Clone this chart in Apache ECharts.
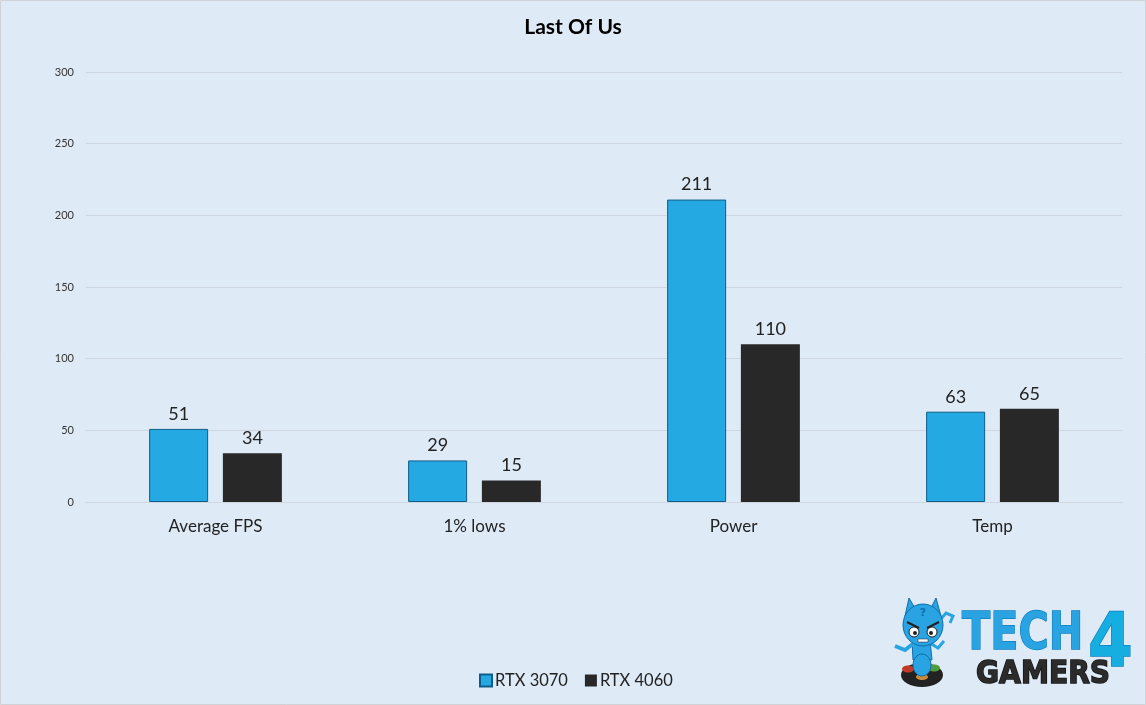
<!DOCTYPE html>
<html>
<head>
<meta charset="utf-8">
<script src="https://cdn.jsdelivr.net/npm/echarts@6/dist/echarts.min.js"></script>
<style>
html,body{margin:0;padding:0;background:#deebf7;}
#c{width:1146px;height:705px;}
</style>
</head>
<body>
<div id="c"></div>
<script>
const categories = ['Average FPS', '1% lows', 'Power', 'Temp'];
const rtx3070 = [51, 29, 211, 63];
const rtx4060 = [34, 15, 110, 65];
const titleText = 'Last Of Us';
const FONT = 'Lato, "Open Sans", sans-serif';
const chart = echarts.init(document.getElementById('c'), null, {renderer: 'canvas'});

function logoText(text, x, y, size, fill, stroke, sx) {
  return {type: 'text', x: x, y: y, scaleX: sx, silent: true,
    style: {text: text, fill: fill, stroke: stroke, lineWidth: 1.5,
      font: '900 ' + size + 'px "DejaVu Sans", sans-serif', textAlign: 'left', textVerticalAlign: 'middle'}};
}
const blue = '#2aa3e2', dark = '#0f6ea8';
const logo = [
  {type: 'ellipse', shape: {cx: 922, cy: 675, rx: 21, ry: 12}, style: {fill: '#222'}},
  {type: 'ellipse', shape: {cx: 908, cy: 669, rx: 6, ry: 3.5}, style: {fill: '#c0392b'}},
  {type: 'ellipse', shape: {cx: 934, cy: 668, rx: 6, ry: 3.5}, style: {fill: '#4f9d3a'}},
  {type: 'ellipse', shape: {cx: 922, cy: 677, rx: 6, ry: 3}, style: {fill: '#c98a3a'}},
  {type: 'polygon', shape: {points: [[909,598],[916,610],[905,616]]}, style: {fill: blue, stroke: dark}},
  {type: 'polygon', shape: {points: [[936,598],[930,610],[941,616]]}, style: {fill: blue, stroke: dark}},
  {type: 'polygon', shape: {points: [[912,640],[913,660],[932,660],[930,640]]}, style: {fill: blue, stroke: dark}},
  {type: 'ellipse', shape: {cx: 922, cy: 665, rx: 9, ry: 11}, style: {fill: blue, stroke: dark}},
  {type: 'polyline', shape: {points: [[914,643],[905,650],[895,646]]}, style: {fill: 'none', stroke: blue, lineWidth: 4}},
  {type: 'polyline', shape: {points: [[930,643],[938,648],[944,641]]}, style: {fill: 'none', stroke: blue, lineWidth: 3}},
  {type: 'polyline', shape: {points: [[940,620],[946,613],[953,616],[950,623]]}, style: {fill: 'none', stroke: blue, lineWidth: 3}},
  {type: 'ellipse', shape: {cx: 923, cy: 625, rx: 20, ry: 21}, style: {fill: blue, stroke: dark}},
  {type: 'text', x: 923, y: 613, silent: true, style: {text: '?', fill: '#0f6ea8', font: 'bold 11px "DejaVu Sans", sans-serif', textAlign: 'center', textVerticalAlign: 'middle'}},
  {type: 'circle', shape: {cx: 914, cy: 632, r: 5}, style: {fill: '#fff', stroke: '#222'}},
  {type: 'circle', shape: {cx: 932, cy: 632, r: 5}, style: {fill: '#fff', stroke: '#222'}},
  {type: 'circle', shape: {cx: 915, cy: 633, r: 2}, style: {fill: '#222'}},
  {type: 'circle', shape: {cx: 931, cy: 633, r: 2}, style: {fill: '#222'}},
  {type: 'line', shape: {x1: 907, y1: 622, x2: 919, y2: 628}, style: {stroke: '#222', lineWidth: 2}},
  {type: 'line', shape: {x1: 939, y1: 622, x2: 927, y2: 628}, style: {stroke: '#222', lineWidth: 2}},
  {type: 'rect', shape: {x: 918, y: 639, width: 10, height: 3}, style: {fill: '#fff', stroke: '#222', lineWidth: 0.5}},
  logoText('TECH', 962, 636, 51, '#2aa3e2', '#0f7fbf', 0.81),
  logoText('4', 1088, 647, 74, '#16aee0', '#0f7fbf', 0.87),
  logoText('GAMERS', 976, 675, 32, '#2b2b2b', '#111', 0.88)
];

chart.setOption({
  animation: false,
  backgroundColor: '#deebf7',
  title: {text: titleText, left: 'center', top: 12,
    textStyle: {fontFamily: FONT, fontSize: 21, fontWeight: 'bold', color: '#000'}},
  legend: {bottom: 11, left: 474, icon: 'rect', itemWidth: 12, itemHeight: 12, itemGap: 17,
    textStyle: {fontFamily: FONT, fontSize: 16.5, color: '#222', padding: [0, 0, 0, -2]},
    data: ['RTX 3070', 'RTX 4060']},
  grid: {left: 86, right: 24, top: 72, bottom: 203, containLabel: false},
  xAxis: {type: 'category', data: categories,
    axisLine: {lineStyle: {color: '#cfd6e0', width: 1}}, axisTick: {show: false},
    axisLabel: {fontFamily: FONT, fontSize: 17, color: '#222', margin: 16}},
  yAxis: {type: 'value', min: 0, max: 300, interval: 50,
    axisLine: {show: false}, axisTick: {show: false},
    splitLine: {lineStyle: {color: '#cfd6e0', width: 1}},
    axisLabel: {fontFamily: FONT, fontSize: 11, color: '#333', margin: 12}},
  series: [
    {name: 'RTX 3070', type: 'bar', data: rtx3070, barWidth: 59, barGap: '25%',
     itemStyle: {color: '#25a9e3', borderColor: '#0f5c8a', borderWidth: 1},
     label: {show: true, position: 'top', distance: 6, fontFamily: FONT, fontSize: 18, color: '#222'}},
    {name: 'RTX 4060', type: 'bar', data: rtx4060, barWidth: 59, barGap: '25%',
     itemStyle: {color: '#282828'},
     label: {show: true, position: 'top', distance: 6, fontFamily: FONT, fontSize: 18, color: '#222'}}
  ],
  graphic: {elements: [
    {type: 'rect', shape: {x: 0.5, y: 0.5, width: 1145, height: 704}, style: {fill: 'none', stroke: '#cfd3d8', lineWidth: 1}, silent: true},
    ...logo
  ]}
});
</script>
</body>
</html>
